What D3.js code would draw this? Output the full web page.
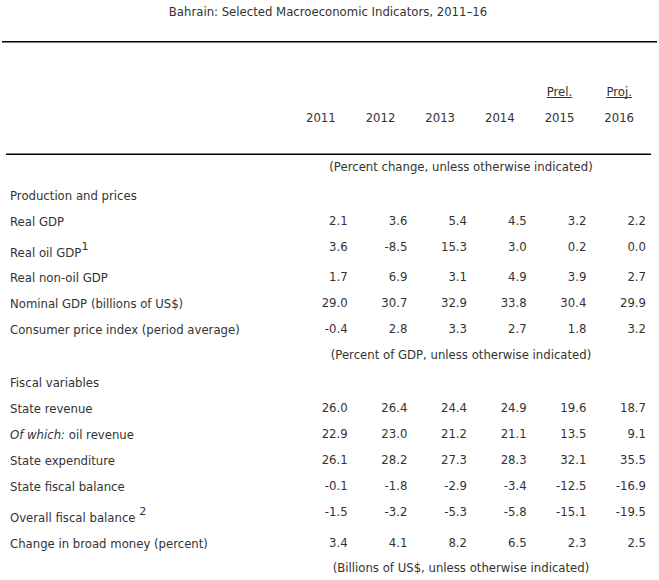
<!DOCTYPE html>
<html>
<head>
<meta charset="utf-8">
<script src="https://cdn.jsdelivr.net/npm/d3@7"></script>
<style>
  html, body { margin: 0; padding: 0; background: #fff; }
  svg { display: block; }
  text { font-family: "DejaVu Sans", Verdana, sans-serif; font-size: 11.7px; fill: #333; }
</style>
</head>
<body>
<svg id="chart" width="659" height="580"></svg>
<script>
// ---- data ----
const title = "Bahrain: Selected Macroeconomic Indicators, 2011–16";
const years = ["2011", "2012", "2013", "2014", "2015", "2016"];
const yearFlags = ["", "", "", "", "Prel.", "Proj."];

const note1 = "(Percent change, unless otherwise indicated)";
const section1 = "Production and prices";
const realGDP = [2.1, 3.6, 5.4, 4.5, 3.2, 2.2];
const realOilGDP = [3.6, -8.5, 15.3, 3.0, 0.2, 0.0];
const realNonOilGDP = [1.7, 6.9, 3.1, 4.9, 3.9, 2.7];
const nominalGDP = [29.0, 30.7, 32.9, 33.8, 30.4, 29.9];
const cpi = [-0.4, 2.8, 3.3, 2.7, 1.8, 3.2];

const note2 = "(Percent of GDP, unless otherwise indicated)";
const section2 = "Fiscal variables";
const stateRevenue = [26.0, 26.4, 24.4, 24.9, 19.6, 18.7];
const oilRevenue = [22.9, 23.0, 21.2, 21.1, 13.5, 9.1];
const stateExpenditure = [26.1, 28.2, 27.3, 28.3, 32.1, 35.5];
const stateFiscalBalance = [-0.1, -1.8, -2.9, -3.4, -12.5, -16.9];
const overallFiscalBalance = [-1.5, -3.2, -5.3, -5.8, -15.1, -19.5];
const broadMoney = [3.4, 4.1, 8.2, 6.5, 2.3, 2.5];

const note3 = "(Billions of US$, unless otherwise indicated)";

// rows: label parts, optional superscript, values
const rows = [
  {type: "note", text: note1},
  {type: "section", text: section1},
  {type: "data", label: "Real GDP", values: realGDP},
  {type: "data", label: "Real oil GDP", sup: "1", values: realOilGDP},
  {type: "data", label: "Real non-oil GDP", values: realNonOilGDP},
  {type: "data", label: "Nominal GDP (billions of US$)", values: nominalGDP},
  {type: "data", label: "Consumer price index (period average)", values: cpi},
  {type: "note", text: note2},
  {type: "section", text: section2},
  {type: "data", label: "State revenue", values: stateRevenue},
  {type: "data", italic: "Of which:", label: " oil revenue", values: oilRevenue},
  {type: "data", label: "State expenditure", values: stateExpenditure},
  {type: "data", label: "State fiscal balance", values: stateFiscalBalance},
  {type: "data", label: "Overall fiscal balance ", sup: "2", values: overallFiscalBalance},
  {type: "data", label: "Change in broad money (percent)", values: broadMoney},
  {type: "note", text: note3}
];

// ---- layout ----
const svg = d3.select("#chart");
const locale = d3.formatLocale({decimal: ".", thousands: ",", grouping: [3], currency: ["$", ""], minus: "-"});
const fmt = locale.format(".1f");
const x = d3.scaleBand().domain(years).range([291, 649]).paddingInner(0);
const labelX = 10;
const noteX = 461;

// baselines for each row (layout, not data)
const rowY = [171, 200, 224.5, 250.5, 281, 307, 333, 359, 387, 412, 438, 463.5, 489.5, 516, 546.5, 572];

svg.append("rect").attr("width", 659).attr("height", 580).attr("fill", "#fff");

svg.append("text")
  .attr("x", 328).attr("y", 16)
  .attr("text-anchor", "middle")
  .text(title);

svg.append("line")
  .attr("x1", 2).attr("x2", 657).attr("y1", 41.7).attr("y2", 41.7)
  .attr("stroke", "#000").attr("stroke-width", 1.6);

// year flags
const flagG = svg.append("g");
years.forEach((yr, i) => {
  if (!yearFlags[i]) return;
  const cx = x(yr) + x.bandwidth() / 2;
  const t = flagG.append("text")
    .attr("x", cx).attr("y", 95.5)
    .attr("text-anchor", "middle")
    .text(yearFlags[i]);
  const bb = t.node().getBBox();
  flagG.append("line")
    .attr("x1", bb.x).attr("x2", bb.x + bb.width)
    .attr("y1", 97.5).attr("y2", 97.5)
    .attr("stroke", "#333").attr("stroke-width", 1);
});

svg.append("g").selectAll("text")
  .data(years).join("text")
  .attr("x", d => x(d) + x.bandwidth() / 2)
  .attr("y", 122.3)
  .attr("text-anchor", "middle")
  .text(d => d);

svg.append("line")
  .attr("x1", 6).attr("x2", 651).attr("y1", 154.3).attr("y2", 154.3)
  .attr("stroke", "#000").attr("stroke-width", 1.6);

const body = svg.append("g");
rows.forEach((r, i) => {
  const y = rowY[i];
  if (r.type === "note") {
    body.append("text").attr("x", noteX).attr("y", y)
      .attr("text-anchor", "middle").text(r.text);
  } else if (r.type === "section") {
    body.append("text").attr("x", labelX).attr("y", y).text(r.text);
  } else {
    const ly = r.sup ? y + 6 : y + 1;
    const t = body.append("text").attr("x", labelX).attr("y", ly);
    if (r.italic) t.append("tspan").attr("font-style", "italic").text(r.italic);
    t.append("tspan").text(r.label);
    if (r.sup) {
      t.append("tspan").attr("dy", -7).attr("font-size", "11px").text(r.sup);
    }
    body.append("g").selectAll("text")
      .data(r.values.map((v, j) => ({v, yr: years[j]})))
      .join("text")
      .attr("x", d => x(d.yr) + x.bandwidth() - 3)
      .attr("y", y)
      .attr("text-anchor", "end")
      .text(d => fmt(d.v));
  }
});
</script>
</body>
</html>
